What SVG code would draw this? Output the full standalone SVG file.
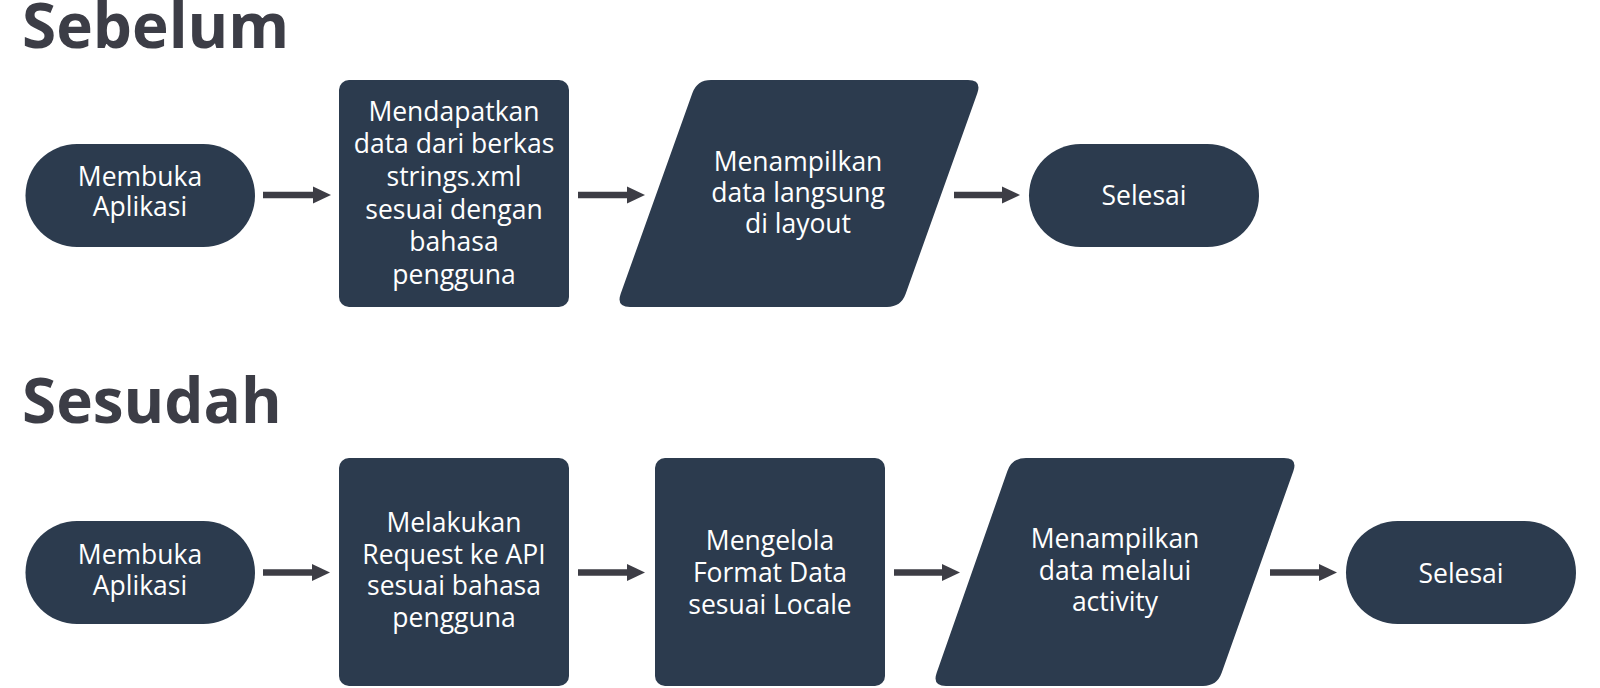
<svg xmlns="http://www.w3.org/2000/svg" width="1600" height="688" viewBox="0 0 1600 688">
<style>
.n{fill:#2c3b4e}
.t{font-family:"Open Sans","Noto Sans","Liberation Sans",sans-serif;font-size:26.5px;fill:#ffffff;text-anchor:middle}
.h{font-family:"Open Sans","Noto Sans","Liberation Sans",sans-serif;font-size:62px;font-weight:bold;fill:#3c3d46}
.c{stroke:#3d3d45;stroke-width:6.5;fill:none}
</style>
<defs>
<marker id="ah" markerUnits="userSpaceOnUse" markerWidth="18" markerHeight="18" viewBox="0 0 18 18" refX="0" refY="9" orient="auto">
<path d="M0,0.5 L18,9 L0,17.5 Z" fill="#3d3d45"/>
</marker>
</defs>
<rect width="1600" height="688" fill="#ffffff"/>
<text class="h" x="22" y="48">Sebelum</text>
<text class="h" x="22" y="423">Sesudah</text>

<g id="connectors">
<path class="c" d="M263,195 H313" marker-end="url(#ah)"/>
<path class="c" d="M578,195 H627" marker-end="url(#ah)"/>
<path class="c" d="M954,195 H1002" marker-end="url(#ah)"/>
<path class="c" d="M263,572.5 H312" marker-end="url(#ah)"/>
<path class="c" d="M578,572.5 H627" marker-end="url(#ah)"/>
<path class="c" d="M894,572.5 H942" marker-end="url(#ah)"/>
<path class="c" d="M1270,572.5 H1319" marker-end="url(#ah)"/>
</g>

<g id="a-start">
<rect class="n" x="25.5" y="144" width="229.5" height="103" rx="51.5"/>
<text class="t" x="140" y="185.5">Membuka</text>
<text class="t" x="140" y="216">Aplikasi</text>
</g>
<g id="a-get">
<rect class="n" x="339" y="80" width="230" height="227" rx="10"/>
<text class="t" x="454" y="120.5">Mendapatkan</text>
<text class="t" x="454" y="153">data dari berkas</text>
<text class="t" x="454" y="185.5">strings.xml</text>
<text class="t" x="454" y="218.5">sesuai dengan</text>
<text class="t" x="454" y="251">bahasa</text>
<text class="t" x="454" y="283.5">pengguna</text>
</g>
<g id="a-show">
<path class="n" d="M711,80 L968,80 Q982,80 977.31,93.19 L905.69,293.81 Q901,307 887,307 L630,307 Q616,307 620.69,293.81 L692.31,93.19 Q697,80 711,80 Z"/>
<text class="t" x="798" y="170.5">Menampilkan</text>
<text class="t" x="798" y="201.5">data langsung</text>
<text class="t" x="798" y="232.5">di layout</text>
</g>
<g id="a-end">
<rect class="n" x="1029" y="144" width="230" height="103" rx="51.5"/>
<text class="t" x="1144" y="205">Selesai</text>
</g>

<g id="b-start">
<rect class="n" x="25.5" y="521" width="229.5" height="103" rx="51.5"/>
<text class="t" x="140" y="564">Membuka</text>
<text class="t" x="140" y="595">Aplikasi</text>
</g>
<g id="b-request">
<rect class="n" x="339" y="458" width="230" height="228" rx="10"/>
<text class="t" x="454" y="532">Melakukan</text>
<text class="t" x="454" y="563.5">Request ke API</text>
<text class="t" x="454" y="595">sesuai bahasa</text>
<text class="t" x="454" y="626.5">pengguna</text>
</g>
<g id="b-format">
<rect class="n" x="655" y="458" width="230" height="228" rx="10"/>
<text class="t" x="770" y="550">Mengelola</text>
<text class="t" x="770" y="582">Format Data</text>
<text class="t" x="770" y="614">sesuai Locale</text>
</g>
<g id="b-show">
<path class="n" d="M1026,458 L1284,458 Q1298,458 1293.31,471.19 L1221.69,672.81 Q1217,686 1203,686 L946,686 Q932,686 936.69,672.81 L1007.31,471.19 Q1012,458 1026,458 Z"/>
<text class="t" x="1115" y="548">Menampilkan</text>
<text class="t" x="1115" y="579.5">data melalui</text>
<text class="t" x="1115" y="611">activity</text>
</g>
<g id="b-end">
<rect class="n" x="1346" y="521" width="230" height="103" rx="51.5"/>
<text class="t" x="1461" y="583">Selesai</text>
</g>
</svg>
